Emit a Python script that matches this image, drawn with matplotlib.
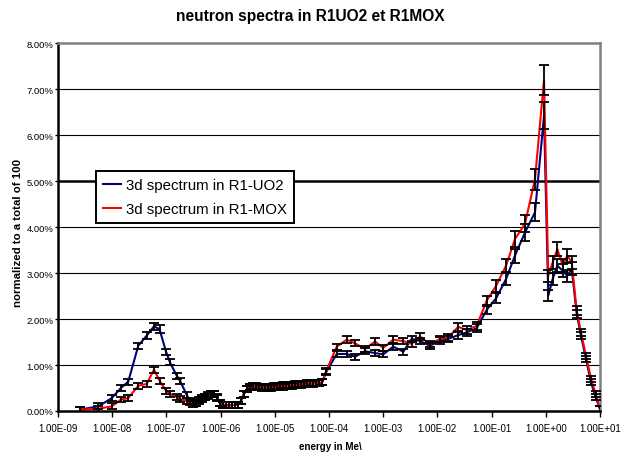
import numpy as np
import matplotlib
matplotlib.use("Agg")
import matplotlib.pyplot as plt
from matplotlib.ticker import FixedLocator, FuncFormatter, PercentFormatter, NullLocator

plt.rcParams['font.family'] = ['Liberation Sans', 'DejaVu Sans']

# Energy group points (MeV)
energy_mev = [
    2.55e-9, 5.55e-9, 9.8e-9, 1.45e-8, 1.98e-8, 3.03e-8, 4.34e-8, 5.90e-8,
    7.46e-8, 9.84e-8, 1.16e-7, 1.55e-7, 1.78e-7, 2.37e-7,
    2.72e-7, 3.10e-7, 3.52e-7, 4.00e-7, 4.54e-7, 5.15e-7, 5.86e-7, 6.65e-7,
    7.56e-7, 8.59e-7, 9.75e-7, 1.11e-6, 1.26e-6, 1.43e-6, 1.62e-6, 1.84e-6,
    2.09e-6, 2.38e-6, 2.70e-6, 3.07e-6, 3.49e-6, 3.96e-6, 4.50e-6, 5.11e-6,
    5.80e-6, 6.59e-6, 7.49e-6, 8.51e-6, 9.66e-6, 1.10e-5, 1.25e-5, 1.42e-5,
    1.61e-5, 1.83e-5, 2.08e-5, 2.36e-5, 2.68e-5, 3.04e-5, 3.46e-5, 3.93e-5,
    4.46e-5, 5.07e-5, 5.76e-5, 6.54e-5, 7.43e-5, 8.81e-5,
    1.39e-4, 2.12e-4, 3.02e-4, 4.61e-4, 7.06e-4, 1.00e-3, 1.53e-3, 2.35e-3,
    3.36e-3, 4.77e-3, 7.30e-3, 1.12e-2, 1.59e-2, 2.43e-2, 3.48e-2, 5.31e-2,
    8.13e-2, 1.21e-1, 1.85e-1, 2.70e-1, 4.13e-1, 6.32e-1, 9.27e-1,
    1.11, 1.34, 1.63, 2.05, 2.49, 3.01, 3.72, 4.46, 5.52, 6.82, 8.34, 10.0,
]

# Normalized spectrum, percent of total (R1-UO2)
spectrum_uo2 = [
    0.03, 0.10, 0.28, 0.50, 0.64, 1.42, 1.64, 1.84, 1.78, 1.29, 1.06, 0.77,
    0.66, 0.35,
    0.22, 0.16, 0.18, 0.24, 0.28, 0.31, 0.34, 0.36, 0.38, 0.30, 0.18, 0.13,
    0.12, 0.13, 0.12, 0.14, 0.13, 0.22, 0.38, 0.48, 0.53, 0.54, 0.52, 0.53,
    0.51, 0.50, 0.53, 0.51, 0.54, 0.52, 0.55, 0.53, 0.56, 0.55, 0.57, 0.56,
    0.58, 0.57, 0.59, 0.58, 0.60, 0.59, 0.61, 0.60, 0.62, 0.84,
    1.24, 1.24, 1.18, 1.30, 1.26, 1.23, 1.40, 1.29, 1.57, 1.52, 1.42, 1.53,
    1.57, 1.65, 1.71, 1.80, 2.20, 2.45, 2.87, 3.38, 3.88, 4.32, 6.42,
    2.51, 2.87, 3.16, 3.05, 2.94, 3.09, 2.11, 1.64, 1.13, 0.62, 0.30, 0.04,
]

# Normalized spectrum, percent of total (R1-MOX)
spectrum_mox = [
    0.03, 0.05, 0.10, 0.25, 0.28, 0.55, 0.59, 0.90, 0.66, 0.44, 0.37, 0.31,
    0.26, 0.22,
    0.19, 0.15, 0.17, 0.22, 0.27, 0.30, 0.33, 0.36, 0.37, 0.29, 0.17, 0.13,
    0.12, 0.12, 0.13, 0.13, 0.14, 0.21, 0.37, 0.47, 0.52, 0.53, 0.54, 0.52,
    0.53, 0.51, 0.50, 0.53, 0.52, 0.55, 0.53, 0.56, 0.54, 0.57, 0.55, 0.58,
    0.57, 0.59, 0.58, 0.60, 0.59, 0.61, 0.60, 0.61, 0.62, 0.86,
    1.40, 1.55, 1.47, 1.35, 1.51, 1.37, 1.55, 1.52, 1.46, 1.62, 1.45, 1.57,
    1.60, 1.83, 1.76, 1.85, 2.40, 2.72, 3.16, 3.74, 4.07, 5.04, 7.20,
    2.94, 3.23, 3.52, 3.16, 3.38, 3.23, 2.18, 1.71, 1.20, 0.70, 0.37, 0.04,
]

# Statistical uncertainty on each group value
relative_uncertainty = 0.045
minimum_uncertainty = 0.065

decade_ticks = [1e-9, 1e-8, 1e-7, 1e-6, 1e-5, 1e-4, 1e-3, 1e-2, 1e-1, 1e0, 1e1]
percent_ticks = [0, 1, 2, 3, 4, 5, 6, 7, 8]

title = "neutron spectra in R1UO2 et R1MOX"
label_uo2 = "3d spectrum in R1-UO2"
label_mox = "3d spectrum in R1-MOX"

W, H = 624, 456
fig = plt.figure(figsize=(W / 100, H / 100), dpi=100)
fig.patch.set_facecolor("white")
ax = fig.add_axes([58 / W, 1 - 412 / H, 542 / W, 368 / H])

E = np.array(energy_mev)
uo2 = np.array(spectrum_uo2)
mox = np.array(spectrum_mox)
err_uo2 = np.maximum(minimum_uncertainty, relative_uncertainty * uo2)
err_mox = np.maximum(minimum_uncertainty, relative_uncertainty * mox)

# horizontal grid
for p in percent_ticks[1:-1]:
    ax.axhline(p, color="black", lw=1.8 if p == 5 else 0.8, zorder=1)

l1, = ax.plot(E, uo2, color="#000080", lw=1.5, zorder=2, label=label_uo2)
l2, = ax.plot(E, mox, color="#ff0000", lw=1.5, zorder=2.5, label=label_mox)
for y, e in ((uo2, err_uo2), (mox, err_mox)):
    ax.errorbar(E, y, yerr=e, fmt="none", ecolor="black", elinewidth=1.3,
                capsize=3.6, capthick=1.3, zorder=3)

ax.set_xscale("log")
ax.set_xlim(1e-9, 1e1)
ax.set_ylim(0, 8)
ax.xaxis.set_major_locator(FixedLocator(decade_ticks))
ax.xaxis.set_minor_locator(NullLocator())
ax.xaxis.set_major_formatter(FuncFormatter(lambda v, _: f"{v:.2E}"))
ax.yaxis.set_major_locator(FixedLocator(percent_ticks))
ax.yaxis.set_major_formatter(PercentFormatter(xmax=100, decimals=2))

for s in ("left", "bottom"):
    ax.spines[s].set_color("black")
    ax.spines[s].set_linewidth(1.8)
for s in ("top", "right"):
    ax.spines[s].set_color("#808080")
    ax.spines[s].set_linewidth(1.8)

ax.tick_params(axis="both", direction="out", colors="black", width=1.0)
ax.tick_params(axis="y", length=2.5, pad=0.8, labelsize=6.8)
ax.tick_params(axis="x", length=4.5, pad=4, labelsize=7)

leg = ax.legend(handles=[l1, l2], loc="upper left",
                bbox_to_anchor=((95.7 - 58) / 542, (412 - 171.7) / 368),
                borderaxespad=0, frameon=True, fancybox=False, framealpha=1,
                edgecolor="black", fontsize=10.8, handlelength=1.2,
                handletextpad=0.3, labelspacing=0.65, borderpad=0.5)
leg.get_frame().set_linewidth(1.4)
leg.set_zorder(5)

fig.text(0.497, 1 - 17 / H, title, ha="center", va="center",
         fontsize=11.2, fontweight="bold")
fig.text(18.5 / W, 1 - 233 / H, "normalized to a total of 100", rotation=90,
         ha="center", va="center", fontsize=8.2, fontweight="bold")
fig.text(330 / W, 1 - 447 / H, "energy in Me\\", ha="center", va="center",
         fontsize=7, fontweight="bold")

fig.savefig("out.png", dpi=100)
